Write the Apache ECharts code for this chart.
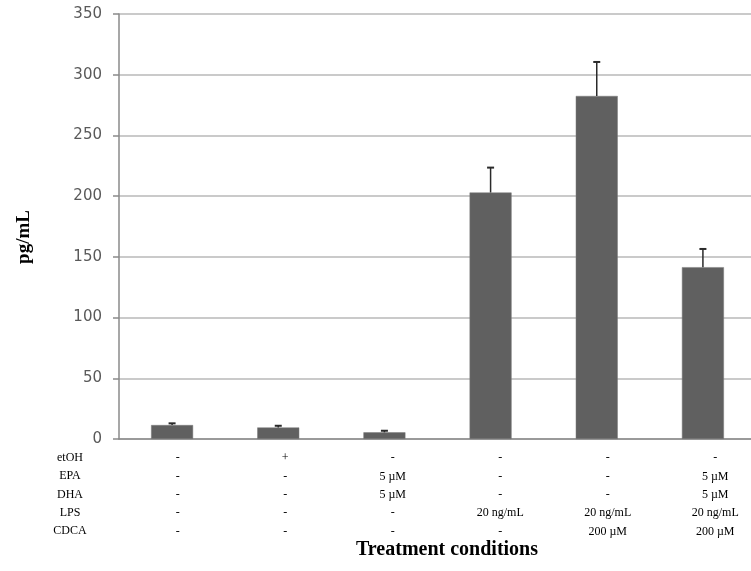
<!DOCTYPE html>
<html>
<head>
<meta charset="utf-8">
<script src="https://cdn.jsdelivr.net/npm/echarts@6/dist/echarts.min.js"></script>
<style>html,body{margin:0;padding:0;background:#fff}#c{width:751px;height:571px}</style>
</head>
<body>
<div id="c"></div>
<script>
// Data
var rowNames = ['etOH', 'EPA', 'DHA', 'LPS', 'CDCA'];
var etOH = ['-', '+', '-', '-', '-', '-'];
var EPA  = ['-', '-', '5 µM', '-', '-', '5 µM'];
var DHA  = ['-', '-', '5 µM', '-', '-', '5 µM'];
var LPS  = ['-', '-', '-', '20 ng/mL', '20 ng/mL', '20 ng/mL'];
var CDCA = ['-', '-', '-', '-', '200 µM', '200 µM'];
var groups = ['G1', 'G2', 'G3', 'G4', 'G5', 'G6'];
var values = [11.5, 9.5, 5.5, 203, 282.5, 141.5];
var errors = [1.4, 1.4, 1.3, 20.5, 28, 15];
var yTicks = {min: 0, max: 350, interval: 50};
var yTitle = 'pg/mL';
var xTitle = 'Treatment conditions';

var tableCols = groups.map(function (g, i) {
  return [etOH[i], EPA[i], DHA[i], LPS[i], CDCA[i]].join('\n');
});
var errData = groups.map(function (g, i) { return [i, values[i], values[i] + errors[i]]; });

var chart = echarts.init(document.getElementById('c'));
var serif = '"Liberation Serif", "Times New Roman", serif';
var graphics = rowNames.map(function (n, i) {
  return {
    type: 'text', x: 70, y: 458 + i * 18.3,
    style: {text: n, font: '12px ' + serif, fill: '#000', align: 'center', verticalAlign: 'middle'}
  };
});
graphics.push({
  type: 'text', x: 447, y: 550,
  style: {text: xTitle, font: 'bold 20px ' + serif, fill: '#000', align: 'center', verticalAlign: 'middle'}
});
graphics.push({
  type: 'text', x: 24, y: 237, rotation: Math.PI / 2,
  style: {text: yTitle, font: 'bold 19px ' + serif, fill: '#000', align: 'center', verticalAlign: 'middle'}
});

chart.setOption({
  animation: false,
  grid: [
    {left: 119, width: 637, top: 14, bottom: 132, outerBoundsMode: 'none', containLabel: false},
    {left: 124, width: 645, top: 14, bottom: 132, outerBoundsMode: 'none', containLabel: false}
  ],
  xAxis: [
    {
      type: 'category', gridIndex: 0,
      data: groups,
      axisLine: {lineStyle: {color: '#8a8a8a', width: 1.5}},
      axisTick: {show: false},
      axisLabel: {show: false}
    },
    {
      type: 'category', gridIndex: 1,
      data: tableCols,
      axisLine: {show: false},
      axisTick: {show: false},
      axisLabel: {fontFamily: serif, fontSize: 12, color: '#000', lineHeight: 18.3, margin: 10, interval: 0}
    }
  ],
  yAxis: [
    {
      type: 'value', gridIndex: 0,
      min: yTicks.min, max: yTicks.max, interval: yTicks.interval,
      axisLine: {show: true, lineStyle: {color: '#8a8a8a', width: 1.5}},
      axisTick: {show: true, length: 6, lineStyle: {color: '#8a8a8a', width: 1.5}},
      axisLabel: {fontFamily: '"DejaVu Sans", sans-serif', fontSize: 15, color: '#595959', margin: 17},
      splitLine: {lineStyle: {color: '#b8b8b8', width: 1.5}}
    },
    {
      type: 'value', gridIndex: 1, show: false,
      min: yTicks.min, max: yTicks.max,
      splitLine: {show: false}
    }
  ],
  graphic: graphics,
  series: [
    {
      type: 'bar',
      data: values,
      barWidth: 42,
      itemStyle: {color: '#606060', borderColor: '#7a7a7a', borderWidth: 0.5}
    },
    {
      type: 'custom',
      data: errData,
      z: 10,
      renderItem: function (params, api) {
        var x = api.value(0);
        var lo = api.coord([x, api.value(1)]);
        var hi = api.coord([x, api.value(2)]);
        var c = '#2a2a2a';
        return {
          type: 'group',
          children: [
            {type: 'line', shape: {x1: lo[0], y1: lo[1], x2: hi[0], y2: hi[1]}, style: {stroke: c, lineWidth: 1.5}},
            {type: 'line', shape: {x1: hi[0] - 3.5, y1: hi[1], x2: hi[0] + 3.5, y2: hi[1]}, style: {stroke: c, lineWidth: 2}}
          ]
        };
      }
    }
  ]
});
</script>
</body>
</html>
